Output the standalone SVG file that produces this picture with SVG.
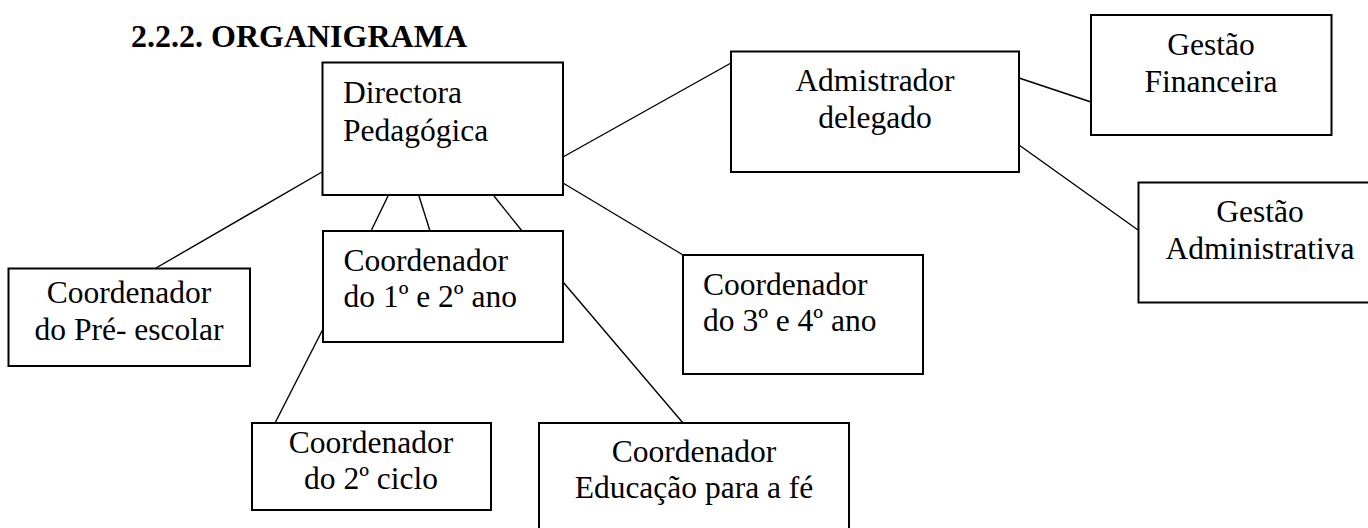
<svg xmlns="http://www.w3.org/2000/svg" width="1368" height="528" viewBox="0 0 1368 528">
<style>
.box{fill:#fff;stroke:#000;stroke-width:2}
.t{font-family:"Liberation Serif","Times New Roman",serif;font-size:31.5px;fill:#000}
.c{text-anchor:middle}
.ln{stroke:#000;stroke-width:1.4;fill:none}
.title{font-family:"Liberation Serif","Times New Roman",serif;font-size:32px;font-weight:bold;fill:#000}
</style>
<rect width="1368" height="528" fill="#fff"/>
<text class="title" x="131" y="47">2.2.2. ORGANIGRAMA</text>
<g id="connectors">
<line class="ln" x1="563" y1="157" x2="731" y2="63"/>
<line class="ln" x1="322" y1="172" x2="156" y2="268"/>
<line class="ln" x1="388" y1="196" x2="371" y2="231"/>
<line class="ln" x1="419" y1="196" x2="430" y2="231"/>
<line class="ln" x1="494" y1="196" x2="522" y2="231"/>
<line class="ln" x1="563" y1="183" x2="683" y2="255"/>
<line class="ln" x1="323" y1="329" x2="275" y2="423"/>
<line class="ln" x1="563" y1="282" x2="683" y2="423"/>
<line class="ln" x1="1019" y1="78" x2="1091" y2="102"/>
<line class="ln" x1="1019" y1="145" x2="1138" y2="230"/>
</g>
<g id="directora">
<rect class="box" x="322.5" y="62.5" width="240.5" height="132.5"/>
<text class="t" x="343" y="103">Directora</text>
<text class="t" x="343" y="141">Pedagógica</text>
</g>
<g id="admistrador">
<rect class="box" x="731" y="51.5" width="288" height="120.5"/>
<text class="t c" x="875" y="91">Admistrador</text>
<text class="t c" x="875" y="128">delegado</text>
</g>
<g id="financeira">
<rect class="box" x="1091" y="15" width="240.5" height="120"/>
<text class="t c" x="1211" y="55">Gestão</text>
<text class="t c" x="1211" y="92">Financeira</text>
</g>
<g id="administrativa">
<rect class="box" x="1138.5" y="182.5" width="243" height="120"/>
<text class="t c" x="1260" y="222">Gestão</text>
<text class="t c" x="1260" y="259">Administrativa</text>
</g>
<g id="preescolar">
<rect class="box" x="8.5" y="268.5" width="241.5" height="97.5"/>
<text class="t c" x="129" y="303">Coordenador</text>
<text class="t c" x="129" y="340">do Pré- escolar</text>
</g>
<g id="ano12">
<rect class="box" x="323" y="231" width="240" height="111"/>
<text class="t" x="343.5" y="271">Coordenador</text>
<text class="t" x="343.5" y="307">do 1º e 2º ano</text>
</g>
<g id="ano34">
<rect class="box" x="683" y="255" width="240" height="119"/>
<text class="t" x="703" y="295">Coordenador</text>
<text class="t" x="703" y="331">do 3º e 4º ano</text>
</g>
<g id="ciclo2">
<rect class="box" x="252" y="423" width="239" height="87"/>
<text class="t c" x="371" y="453">Coordenador</text>
<text class="t c" x="371" y="489">do 2º ciclo</text>
</g>
<g id="educacao">
<rect class="box" x="539" y="423" width="310" height="120"/>
<text class="t c" x="694" y="462">Coordenador</text>
<text class="t c" x="694" y="498">Educação para a fé</text>
</g>
</svg>
